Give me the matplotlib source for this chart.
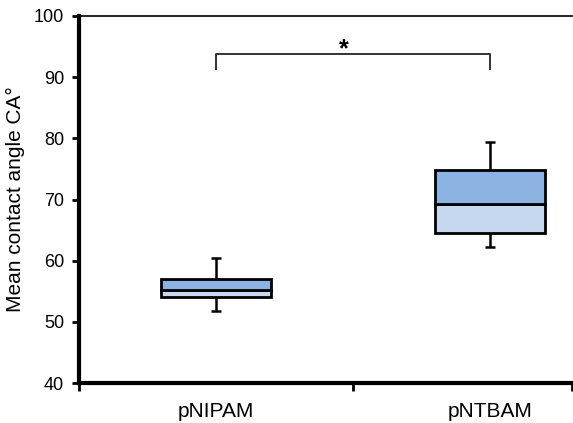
import matplotlib
matplotlib.use("Agg")
import matplotlib.pyplot as plt

plt.rcParams['font.family'] = ['Liberation Sans', 'DejaVu Sans']

categories = ["pNIPAM", "pNTBAM"]
whisker_low = [51.8, 62.3]
q1 = [54.0, 64.5]
median = [55.2, 69.3]
q3 = [56.95, 74.8]
whisker_high = [60.4, 79.4]
bracket_y = 93.8
bracket_drop = 2.5

positions = [0.5, 1.5]
width = 0.40
cap = 0.036
dark = "#8db3e2"
light = "#c6d9f1"

fig = plt.figure(figsize=(5.73, 4.23), dpi=100)
ax = fig.add_axes([79/573, 40/423, (572-79)/573, (383-16)/423])
ax.set_xlim(0, 1.8)
ax.set_ylim(40, 100)

for x, wl, a, m, b, wh in zip(positions, whisker_low, q1, median, q3, whisker_high):
    ax.vlines(x, b, wh, color="black", lw=1.8, zorder=2)
    ax.vlines(x, wl, a, color="black", lw=1.8, zorder=2)
    ax.hlines([wl, wh], x - cap/2, x + cap/2, color="black", lw=1.8, zorder=2)
    ax.bar(x, m - a, bottom=a, width=width, color=light, edgecolor="black", lw=2, zorder=3)
    ax.bar(x, b - m, bottom=m, width=width, color=dark, edgecolor="black", lw=2, zorder=3)

# significance bracket
x0, x1 = positions
ax.plot([x0, x0, x1, x1], [bracket_y - bracket_drop, bracket_y, bracket_y, bracket_y - bracket_drop],
        color="#333333", lw=1.4, clip_on=False)
ax.text((x0 + x1) / 2 - 0.035, 94.5, "*", ha="center", va="center",
        fontsize=18, fontweight="bold")

ax.set_yticks(range(40, 101, 10))
ax.tick_params(axis="y", direction="out", length=5, width=2, labelsize=13, pad=5.8)
ax.set_xticks([0, 1, 1.8])
ax.set_xticklabels([])
ax.set_xticks(positions, minor=True)
ax.set_xticklabels(categories, minor=True)
ax.tick_params(axis="x", which="major", direction="out", length=6, width=2)
ax.tick_params(axis="x", which="minor", length=0, labelsize=15, pad=14)

ax.spines["left"].set_linewidth(3)
ax.spines["bottom"].set_linewidth(3)
ax.spines["top"].set_linewidth(1.2)
ax.spines["right"].set_visible(False)

ax.set_ylabel("Mean contact angle CA°", fontsize=15)
ax.yaxis.set_label_coords((25 - 79) / 493, 0.5)

fig.savefig("out.png", dpi=100)
